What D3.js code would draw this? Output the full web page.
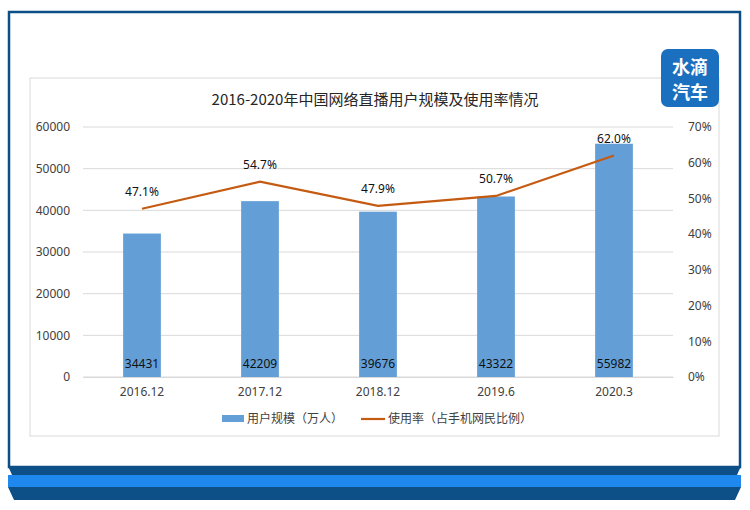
<!DOCTYPE html>
<html>
<head>
<meta charset="utf-8">
<script src="https://cdn.jsdelivr.net/npm/d3@7"></script>
<style>
  body { margin: 0; background: #fff; }
  svg { display: block; font-family: "Noto Sans CJK SC", "Noto Sans", sans-serif; }
</style>
</head>
<body>
<script>
// chart data
const categories = ["2016.12", "2017.12", "2018.12", "2019.6", "2020.3"];
const users = [34431, 42209, 39676, 43322, 55982];
const rate = [47.1, 54.7, 47.9, 50.7, 62.0];
const leftTicks = [0, 10000, 20000, 30000, 40000, 50000, 60000];
const rightTicks = [0, 10, 20, 30, 40, 50, 60, 70];

const width = 750, height = 510;
const svg = d3.select("body").append("svg")
    .attr("width", width)
    .attr("height", height);

// outer frame
svg.append("rect")
    .attr("x", 9).attr("y", 12).attr("width", 731).attr("height", 455)
    .attr("fill", "#fff").attr("stroke", "#0c4f86").attr("stroke-width", 2.5);

// bottom bands
svg.append("path")
    .attr("d", "M8,466 L741,466 L737,475 L12,475 Z")
    .attr("fill", "#0d4f87");
svg.append("rect")
    .attr("x", 8).attr("y", 475).attr("width", 733).attr("height", 12)
    .attr("fill", "#1e88ee");
svg.append("path")
    .attr("d", "M8,487 L741,487 L735,500 L14,500 Z")
    .attr("fill", "#0d4f87");

// chart box
svg.append("rect")
    .attr("x", 30).attr("y", 78).attr("width", 689).attr("height", 358)
    .attr("fill", "#fff").attr("stroke", "#d9d9d9").attr("stroke-width", 1);

// logo
const logo = svg.append("g").attr("transform", "translate(661,49)");
logo.append("rect")
    .attr("width", 58).attr("height", 58).attr("rx", 7)
    .attr("fill", "#1b6fbf");
logo.append("text").attr("x", 29).attr("y", 25)
    .attr("text-anchor", "middle").attr("fill", "#fff")
    .attr("font-size", 18).attr("font-weight", "bold").text("水滴");
logo.append("text").attr("x", 29).attr("y", 50)
    .attr("text-anchor", "middle").attr("fill", "#fff")
    .attr("font-size", 18).attr("font-weight", "bold").text("汽车");

// title
svg.append("text")
    .attr("x", 375).attr("y", 105)
    .attr("text-anchor", "middle")
    .attr("font-size", 15).attr("fill", "#262626")
    .text("2016-2020年中国网络直播用户规模及使用率情况");

// scales
const x = d3.scaleBand().domain(categories).range([83, 673]).paddingInner(0.68).paddingOuter(0.34);
const yL = d3.scaleLinear().domain([0, 60000]).range([377, 127]);
const yR = d3.scaleLinear().domain([0, 70]).range([377, 127]);

// gridlines
svg.append("g").selectAll("line")
    .data(leftTicks).enter().append("line")
    .attr("x1", 83).attr("x2", 673)
    .attr("y1", d => yL(d)).attr("y2", d => yL(d))
    .attr("stroke", "#d9d9d9").attr("stroke-width", 1);

// left axis
const axL = svg.append("g").attr("transform", "translate(83,0)")
    .call(d3.axisLeft(yL).tickValues(leftTicks).tickSize(0).tickPadding(13).tickFormat(d3.format("d")));
axL.select(".domain").remove();
axL.selectAll("text").attr("font-size", 12).attr("fill", "#404040")
    .attr("font-family", "'Noto Sans', sans-serif");

// right axis
const axR = svg.append("g").attr("transform", "translate(673,0)")
    .call(d3.axisRight(yR).tickValues(rightTicks).tickSize(0).tickPadding(15).tickFormat(d => d + "%"));
axR.select(".domain").remove();
axR.selectAll("text").attr("font-size", 12).attr("fill", "#404040")
    .attr("font-family", "'Noto Sans', sans-serif");

// bottom axis
const axB = svg.append("g").attr("transform", "translate(0,377)")
    .call(d3.axisBottom(x).tickSize(0).tickPadding(10));
axB.select(".domain").attr("stroke", "#d9d9d9");
axB.selectAll("text").attr("font-size", 12).attr("fill", "#404040")
    .attr("font-family", "'Noto Sans', sans-serif");

// bars
svg.append("g").selectAll("rect")
    .data(users).enter().append("rect")
    .attr("x", (d, i) => x(categories[i]))
    .attr("y", d => yL(d))
    .attr("width", x.bandwidth())
    .attr("height", d => yL(0) - yL(d))
    .attr("fill", "#639fd6");

svg.append("g").selectAll("text")
    .data(users).enter().append("text")
    .attr("x", (d, i) => x(categories[i]) + x.bandwidth() / 2)
    .attr("y", 368)
    .attr("text-anchor", "middle")
    .attr("font-size", 12).attr("fill", "#111")
    .attr("font-family", "'Noto Sans', sans-serif")
    .text(d => d);

// line
const line = d3.line()
    .x((d, i) => x(categories[i]) + x.bandwidth() / 2)
    .y(d => yR(d));
svg.append("path")
    .datum(rate)
    .attr("d", line)
    .attr("fill", "none")
    .attr("stroke", "#c55a11")
    .attr("stroke-width", 2.2);

svg.append("g").selectAll("text")
    .data(rate).enter().append("text")
    .attr("x", (d, i) => x(categories[i]) + x.bandwidth() / 2)
    .attr("y", d => yR(d) - 13)
    .attr("text-anchor", "middle")
    .attr("font-size", 12).attr("fill", "#111")
    .attr("font-family", "'Noto Sans', sans-serif")
    .text(d => d.toFixed(1) + "%");

// legend
const lg = svg.append("g").attr("transform", "translate(0,419)");
lg.append("rect").attr("x", 222).attr("y", -4).attr("width", 22).attr("height", 7).attr("fill", "#639fd6");
lg.append("text").attr("x", 247).attr("y", 4).attr("font-size", 12).attr("fill", "#404040").text("用户规模（万人）");
lg.append("line").attr("x1", 361).attr("x2", 385).attr("y1", 0).attr("y2", 0)
    .attr("stroke", "#c55a11").attr("stroke-width", 2.2);
lg.append("text").attr("x", 388).attr("y", 4).attr("font-size", 12).attr("fill", "#404040").text("使用率（占手机网民比例）");
</script>
</body>
</html>
